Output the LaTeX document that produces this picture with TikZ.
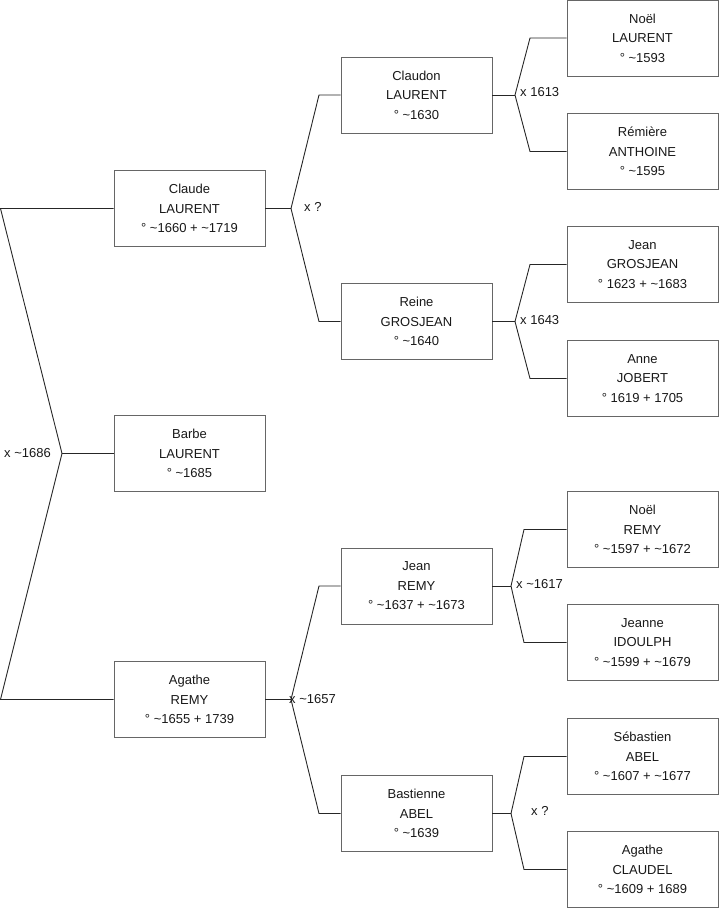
\documentclass[tikz,border=0pt]{standalone}
\usepackage{fontspec}
\setmainfont{Liberation Sans}
\begin{document}
\begin{tikzpicture}[x=1pt,y=-1pt,
  person/.style={draw=black!60, line width=0.9pt, fill=white, minimum width=151pt, minimum height=76pt, inner sep=0pt, align=center, font=\fontsize{13}{19.5}\selectfont, text=black!90},
  link/.style={draw=black!85, line width=0.9pt},
  union/.style={font=\fontsize{13}{15}\selectfont, inner sep=0pt, text=black!90}]
\useasboundingbox (0,0) rectangle (719,908);
% column 1
\node[person] (claude) at (189.5,208.5) {Claude\\LAURENT\\° \textasciitilde1660 + \textasciitilde1719};
\node[person] (barbe) at (189.5,453.5) {Barbe\\LAURENT\\° \textasciitilde1685};
\node[person] (agathe) at (189.5,699.5) {Agathe\\REMY\\° \textasciitilde1655 + 1739};
% column 2
\node[person] (claudon) at (416.5,95) {Claudon\\LAURENT\\° \textasciitilde1630};
\node[person] (reine) at (416.5,321.5) {Reine\\GROSJEAN\\° \textasciitilde1640};
\node[person] (jeanr) at (416.5,586) {Jean\\REMY\\° \textasciitilde1637 + \textasciitilde1673};
\node[person] (bastienne) at (416.5,813.5) {Bastienne\\ABEL\\° \textasciitilde1639};
% column 3
\node[person] (noell) at (642.5,38) {Noël\\LAURENT\\° \textasciitilde1593};
\node[person] (remiere) at (642.5,151.5) {Rémière\\ANTHOINE\\° \textasciitilde1595};
\node[person] (jeang) at (642.5,264.5) {Jean\\GROSJEAN\\° 1623 + \textasciitilde1683};
\node[person] (anne) at (642.5,378.5) {Anne\\JOBERT\\° 1619 + 1705};
\node[person] (noelr) at (642.5,529.5) {Noël\\REMY\\° \textasciitilde1597 + \textasciitilde1672};
\node[person] (jeanne) at (642.5,642.5) {Jeanne\\IDOULPH\\° \textasciitilde1599 + \textasciitilde1679};
\node[person] (sebastien) at (642.5,756.5) {Sébastien\\ABEL\\° \textasciitilde1607 + \textasciitilde1677};
\node[person] (agathec) at (642.5,869.5) {Agathe\\CLAUDEL\\° \textasciitilde1609 + 1689};
% junctions and bends
\coordinate (j1) at (62,453.5);
\coordinate (c1a) at (0.5,208.5);
\coordinate (c1b) at (0.5,699.5);
\coordinate (j2) at (291,208.5);
\coordinate (c2a) at (319,95);
\coordinate (c2b) at (319,321.5);
\coordinate (j3) at (291,699.5);
\coordinate (c3a) at (319,586);
\coordinate (c3b) at (319,813.5);
\coordinate (j4) at (515,95);
\coordinate (c4a) at (530,38);
\coordinate (c4b) at (530,151.5);
\coordinate (j5) at (515,321.5);
\coordinate (c5a) at (530,264.5);
\coordinate (c5b) at (530,378.5);
\coordinate (j6) at (511,586);
\coordinate (c6a) at (524,529.5);
\coordinate (c6b) at (524,642.5);
\coordinate (j7) at (511,813.5);
\coordinate (c7a) at (524,756.5);
\coordinate (c7b) at (524,869.5);
% connectors
\draw[link] (claude.west) -- (c1a) -- (j1) -- (c1b) -- (agathe.west);
\draw[link] (j1) -- (barbe.west);
\draw[link] (claude.east) -- (j2);
\draw[link] (claudon.west) -- (c2a) -- (j2) -- (c2b) -- (reine.west);
\draw[link] (agathe.east) -- (j3);
\draw[link] (jeanr.west) -- (c3a) -- (j3) -- (c3b) -- (bastienne.west);
\draw[link] (claudon.east) -- (j4);
\draw[link] (noell.west) -- (c4a) -- (j4) -- (c4b) -- (remiere.west);
\draw[link] (reine.east) -- (j5);
\draw[link] (jeang.west) -- (c5a) -- (j5) -- (c5b) -- (anne.west);
\draw[link] (jeanr.east) -- (j6);
\draw[link] (noelr.west) -- (c6a) -- (j6) -- (c6b) -- (jeanne.west);
\draw[link] (bastienne.east) -- (j7);
\draw[link] (sebastien.west) -- (c7a) -- (j7) -- (c7b) -- (agathec.west);
% union labels
\node[union, anchor=east] (u1) at (51,453) {x \textasciitilde1686};
\node[union, anchor=west] (u2) at (304,207) {x ?};
\node[union, anchor=west] (u3) at (289,699) {x \textasciitilde1657};
\node[union, anchor=west] (u4) at (520,92) {x 1613};
\node[union, anchor=west] (u5) at (520,320) {x 1643};
\node[union, anchor=west] (u6) at (516,584) {x \textasciitilde1617};
\node[union, anchor=west] (u7) at (531,811) {x ?};
\end{tikzpicture}
\end{document}
